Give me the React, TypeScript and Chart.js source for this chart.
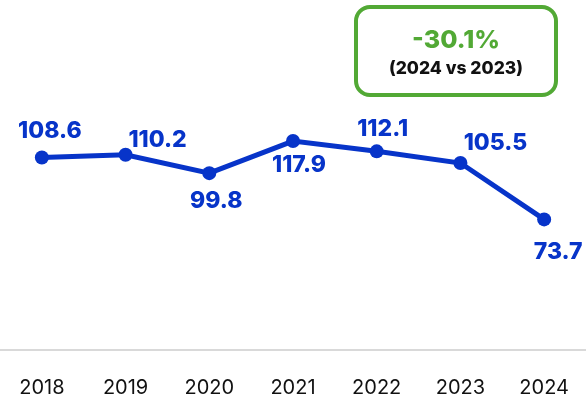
import React, { useEffect, useRef } from "react";
import { Chart, registerables } from "chart.js";

Chart.register(...registerables);

const years = ["2018", "2019", "2020", "2021", "2022", "2023", "2024"];
const values = [108.6, 110.2, 99.8, 117.9, 112.1, 105.5, 73.7];
const valueLabels = ["108.6", "110.2", "99.8", "117.9", "112.1", "105.5", "73.7"];
// label placement relative to each point: [dx, dy]
const labelOffsets: [number, number][] = [
  [8, -26],
  [32, -15],
  [7, 28],
  [6, 24],
  [6, -22],
  [35, -20],
  [14, 33],
];
const changeText = "-30.1%";
const changeSub = "(2024 vs 2023)";

const BLUE = "#0734c9";
const GREEN = "#52a935";
const FONT = "Inter, 'Open Sans', sans-serif";

const labelPlugin = {
  id: "valueLabels",
  afterDatasetsDraw(chart: any) {
    const ctx = chart.ctx;
    const meta = chart.getDatasetMeta(0);
    ctx.save();
    ctx.fillStyle = BLUE;
    ctx.font = `800 23px ${FONT}`;
    ctx.textAlign = "center";
    ctx.textBaseline = "middle";
    meta.data.forEach((pt: any, i: number) => {
      const [dx, dy] = labelOffsets[i];
      ctx.fillText(valueLabels[i], pt.x + dx, pt.y + dy);
    });
    ctx.restore();
  },
  afterDraw(chart: any) {
    const ctx = chart.ctx;
    ctx.save();
    const x = 356, y = 7, w = 200, h = 88, r = 14;
    ctx.lineWidth = 4;
    ctx.strokeStyle = GREEN;
    ctx.beginPath();
    ctx.roundRect(x, y, w, h, r);
    ctx.stroke();
    ctx.textAlign = "center";
    ctx.textBaseline = "middle";
    ctx.fillStyle = GREEN;
    ctx.font = `800 25px ${FONT}`;
    ctx.fillText(changeText, x + w / 2, 40);
    ctx.fillStyle = "#111";
    ctx.font = `800 17.5px ${FONT}`;
    ctx.fillText(changeSub, x + w / 2, 69);
    ctx.restore();
  },
};

export default function App() {
  const ref = useRef<HTMLCanvasElement>(null);
  useEffect(() => {
    if (!ref.current) return;
    const chart = new Chart(ref.current, {
      type: "line",
      data: {
        labels: years,
        datasets: [
          {
            data: values,
            borderColor: BLUE,
            backgroundColor: BLUE,
            borderWidth: 5,
            pointRadius: 7,
            pointHoverRadius: 7,
            pointBackgroundColor: BLUE,
            pointBorderWidth: 0,
            tension: 0,
          },
        ],
      },
      options: {
        animation: false,
        responsive: true,
        maintainAspectRatio: false,
        layout: { autoPadding: false, padding: 0 },
        plugins: { legend: { display: false }, tooltip: { enabled: false } },
        scales: {
          x: {
            offset: true,
            grid: { display: false, drawTicks: true, tickLength: 26 },
            border: { display: true, color: "#d9d9d9", width: 2 },
            ticks: {
              color: "#111",
              font: { family: FONT, size: 20, weight: "400" },
              padding: 0,
              maxRotation: 0,
            },
          },
          y: {
            display: false,
            min: 0,
            max: 197.5,
          },
        },
      },
      plugins: [labelPlugin],
    });
    return () => chart.destroy();
  }, []);
  return (
    <div style={{ position: "fixed", left: 0, top: 0, width: 586, height: 400, background: "#fff" }}>
      <canvas ref={ref} />
    </div>
  );
}
